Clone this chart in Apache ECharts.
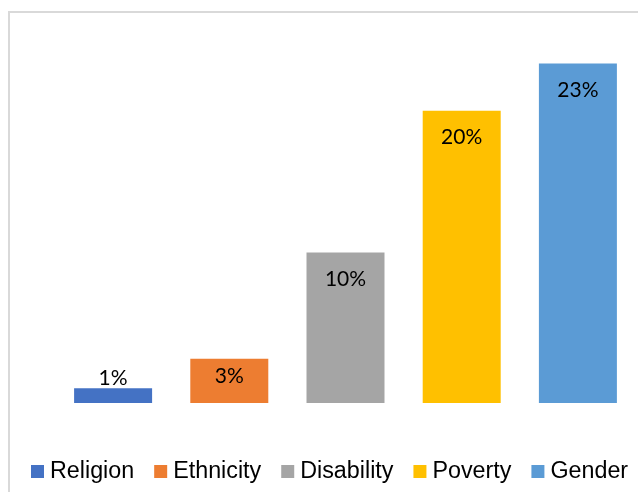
<!DOCTYPE html>
<html>
<head>
<meta charset="utf-8">
<script src="https://cdn.jsdelivr.net/npm/echarts@6/dist/echarts.min.js"></script>
<style>html,body{margin:0;padding:0;background:#fff}#c{width:638px;height:492px}</style>
</head>
<body>
<div id="c"></div>
<script>
const categories = ['Religion', 'Ethnicity', 'Disability', 'Poverty', 'Gender'];
const values = [1.0, 3.0, 10.2, 19.8, 23.0];
const labels = ['1%', '3%', '10%', '20%', '23%'];
const colors = ['#4472C4', '#ED7D31', '#A5A5A5', '#FFC000', '#5B9BD5'];

const chart = echarts.init(document.getElementById('c'));
const series = categories.map((name, i) => {
  const data = categories.map((_, j) => j === i ? values[i] : null);
  let pos = 'insideTop', dist = 16;
  if (values[i] < 2) { pos = 'top'; dist = 0; }
  else if (values[i] < 5) { dist = 7; }
  return {
    name: name,
    type: 'bar',
    data: data,
    barWidth: 78,
    barGap: '-100%',
    itemStyle: { color: colors[i] },
    label: {
      show: true,
      position: pos,
      distance: dist,
      formatter: () => labels[i],
      color: '#000',
      fontFamily: 'Lato',
      fontSize: 21
    }
  };
});

chart.setOption({
  animation: false,
  graphic: [{
    type: 'rect',
    shape: { x: 9, y: 12, width: 700, height: 600 },
    style: { fill: 'none', stroke: '#d9d9d9', lineWidth: 2 },
    silent: true
  }],
  grid: { left: 55, right: 2, top: 34, bottom: 89 },
  xAxis: {
    type: 'category',
    data: categories,
    axisLine: { show: false },
    axisTick: { show: false },
    axisLabel: { show: false },
    splitLine: { show: false }
  },
  yAxis: {
    type: 'value',
    min: 0,
    max: 25,
    show: false,
    splitLine: { show: false }
  },
  legend: {
    left: 31,
    top: 460,
    padding: 0,
    itemWidth: 13,
    itemHeight: 13,
    itemGap: 20,
    icon: 'rect',
    textStyle: { fontFamily: 'Liberation Sans', fontSize: 23.3, color: '#000', padding: [0, 0, 0, 1] },
    data: categories
  },
  series: series
});
</script>
</body>
</html>
